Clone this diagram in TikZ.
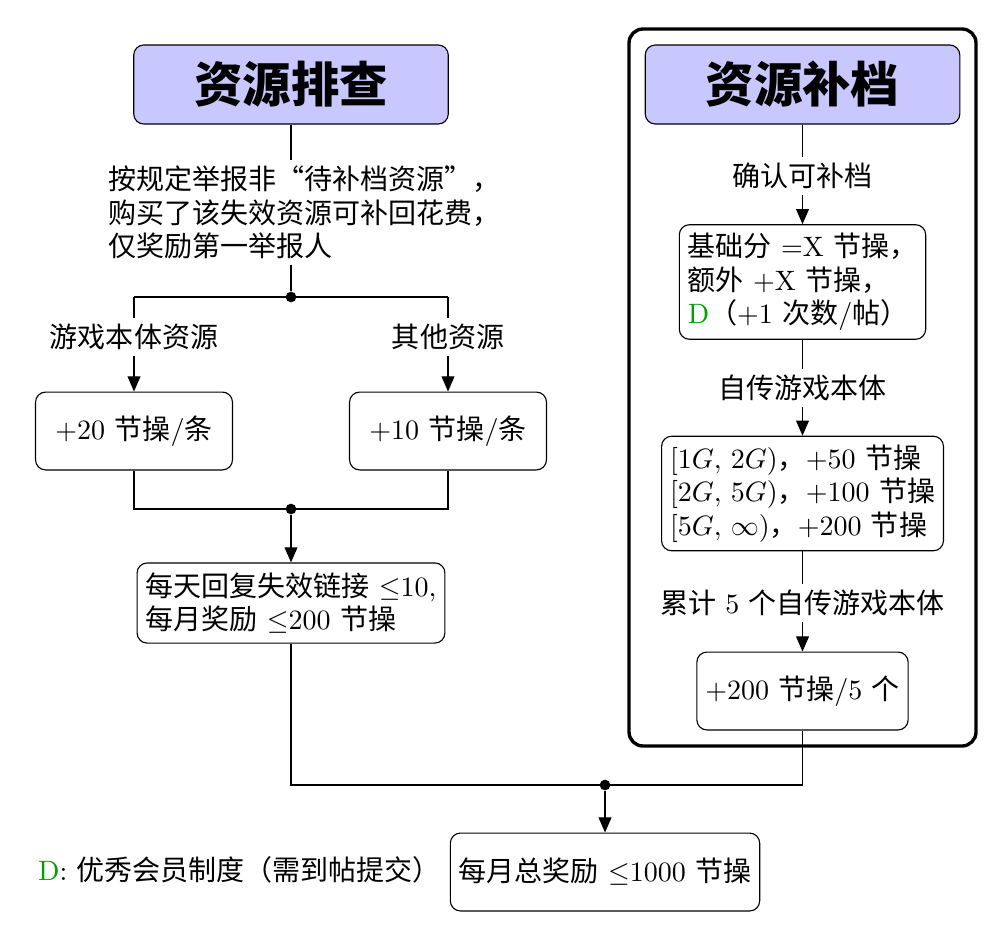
\documentclass[tikz,border=0pt]{standalone}
\usepackage{fontspec}
\newfontfamily\cjk{Noto Sans CJK SC}
\usetikzlibrary{arrows.meta}
\newcommand\zh[1]{{\cjk #1}}
\definecolor{titlefill}{RGB}{200,200,255}
\definecolor{dgreen}{RGB}{0,160,0}
\begin{document}
\begin{tikzpicture}[x=0.357pt,y=-0.357pt,
  box/.style={draw, rounded corners=3.6pt, inner sep=3pt, align=left},
  titlebox/.style={draw, rounded corners=3.6pt, fill=titlefill, minimum width=112.3pt, minimum height=28.2pt, font=\LARGE\bfseries\cjk},
  lab/.style={inner sep=2pt, align=left},
  dot/.style={circle, fill=black, inner sep=0pt, minimum size=3.8pt},
  arr/.style={-{Triangle[length=5.4pt,width=4.6pt]}},
  frame/.style={draw, very thick, rounded corners=5pt}]
\useasboundingbox (0,0) rectangle (1006,940);

% outer frame of right column
\draw[frame] (629,29) rectangle (976,746);

% left column
\node[titlebox] (t1) at (291,84.5) {资源排查};
\node[lab, anchor=west] (lab1) at (102,212.5) {\zh{按规定举报非“待补档资源”，}\\\zh{购买了该失效资源可补回花费，}\\\zh{仅奖励第一举报人}};
\node[dot] (d1) at (291,297) {};
\node[lab] (lg) at (134,337) {\zh{游戏本体资源}};
\node[lab] (lo) at (448,337) {\zh{其他资源}};
\node[box, minimum width=70.3pt, minimum height=27.8pt, align=center] (b20) at (134,431) {+20 \zh{节操}/\zh{条}};
\node[box, minimum width=70.3pt, minimum height=27.8pt, align=center] (b10) at (448,431) {+10 \zh{节操}/\zh{条}};
\node[dot] (d2) at (291,509) {};
\node[box, minimum width=108.9pt, minimum height=28.6pt] (daily) at (291,603) {\zh{每天回复失效链接} $\le$10,\\\zh{每月奖励} $\le$200 \zh{节操}};

% right column
\node[titlebox] (t2) at (802.5,84.5) {资源补档};
\node[lab] (lr1) at (802.5,176) {\zh{确认可补档}};
\node[box, minimum width=80.7pt, minimum height=40pt] (base) at (802.5,282) {\zh{基础分} =X \zh{节操，}\\\zh{额外} +X \zh{节操，}\\\textcolor{dgreen}{D}\zh{（}+1 \zh{次数}/\zh{帖）}};
\node[lab] (lr2) at (802.5,388) {\zh{自传游戏本体}};
\node[box, minimum width=99.6pt, minimum height=40.3pt] (size) at (802.5,493.5) {$[1G,\,2G)$\zh{，}+50 \zh{节操}\\$[2G,\,5G)$\zh{，}+100 \zh{节操}\\$[5G,\,\infty)$\zh{，}+200 \zh{节操}};
\node[lab] (lr3) at (802.5,603) {\zh{累计} 5 \zh{个自传游戏本体}};
\node[box, minimum width=74.6pt, minimum height=27.8pt, align=center] (b5) at (802.5,691) {+200 \zh{节操}/5 \zh{个}};

% bottom
\node[dot] (d3) at (605,785) {};
\node[box, minimum width=110pt, minimum height=27.8pt, align=center] (total) at (605,872) {\zh{每月总奖励} $\le$1000 \zh{节操}};
\node[lab, anchor=west] (legend) at (32,870) {\textcolor{dgreen}{D}: \zh{优秀会员制度（需到帖提交）}};

% connectors left
\draw (t1.south) -- (t1.south |- lab1.north);
\draw (t1.south |- lab1.south) -- (d1);
\draw (lg.north |- d1) -- (lo.north |- d1);
\draw (lg.north |- d1) -- (lg.north);
\draw (lo.north |- d1) -- (lo.north);
\draw[arr] (lg.south) -- (b20.north);
\draw[arr] (lo.south) -- (b10.north);
\draw (b20.south) -- (b20.south |- d2) -- (b10.south |- d2) -- (b10.south);
\draw[arr] (d2) -- (daily.north);

% connectors right
\draw (t2.south) -- (lr1.north);
\draw[arr] (lr1.south) -- (base.north);
\draw (base.south) -- (lr2.north);
\draw[arr] (lr2.south) -- (size.north);
\draw (size.south) -- (lr3.north);
\draw[arr] (lr3.south) -- (b5.north);

% merge
\draw (daily.south) -- (daily.south |- d3) -- (b5.south |- d3) -- (b5.south);
\draw[arr] (d3) -- (total.north);
\end{tikzpicture}
\end{document}
